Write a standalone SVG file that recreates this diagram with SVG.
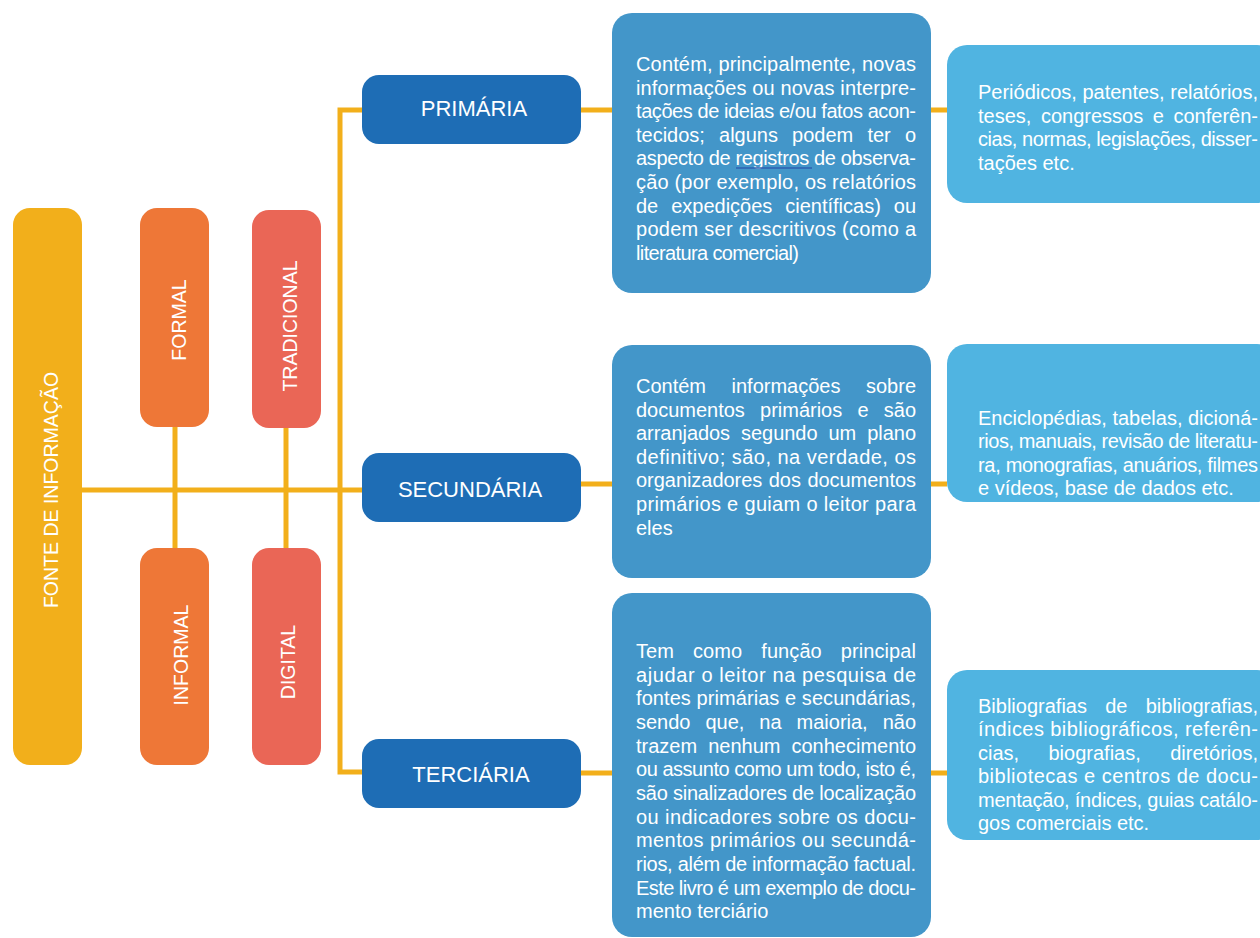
<svg xmlns="http://www.w3.org/2000/svg" width="1260" height="938" viewBox="0 0 1260 938">
<style>
.t{font-family:"Liberation Sans",Arial,sans-serif;fill:#fff;font-size:20px}
.v{font-family:"Liberation Sans",Arial,sans-serif;fill:#fff;font-size:19.5px;text-anchor:middle}
.h{font-family:"Liberation Sans",Arial,sans-serif;fill:#fff;font-size:22px;text-anchor:middle}
.c{fill:none;stroke:#F2AF1B;stroke-width:5}
.yel{fill:#F2AF1B}.ora{fill:#EE7737}.cor{fill:#EA6656}.dk{fill:#1E6DB5}.md{fill:#4396C9}.lt{fill:#50B4E1}
</style>
<rect width="1260" height="938" fill="#fff"/>
<g id="connectors">
<path class="c" d="M82 490H362"/>
<path class="c" d="M362 110H340V772H362"/>
<path class="c" d="M175 427V548"/>
<path class="c" d="M286 428V548"/>
<path class="c" d="M581 110H612M931 110H947"/>
<path class="c" d="M581 484H612M931 484H947"/>
<path class="c" d="M581 773H612M931 773H947"/>
</g>
<g id="fonte">
<rect class="yel" x="13" y="208" width="69" height="557" rx="17"/>
<text class="v" transform="translate(58 490) rotate(-90)">FONTE DE INFORMAÇÃO</text>
</g>
<g id="formal">
<rect class="ora" x="140" y="208" width="69" height="219" rx="17"/>
<text class="v" transform="translate(186 320) rotate(-90)">FORMAL</text>
</g>
<g id="informal">
<rect class="ora" x="140" y="548" width="69" height="217" rx="17"/>
<text class="v" transform="translate(188 655) rotate(-90)">INFORMAL</text>
</g>
<g id="tradicional">
<rect class="cor" x="252" y="210" width="69" height="218" rx="17"/>
<text class="v" transform="translate(297 326) rotate(-90)">TRADICIONAL</text>
</g>
<g id="digital">
<rect class="cor" x="252" y="548" width="69" height="217" rx="17"/>
<text class="v" transform="translate(295 662) rotate(-90)">DIGITAL</text>
</g>
<g id="primaria">
<rect class="dk" x="362" y="75" width="219" height="69" rx="17"/>
<text class="h" x="474" y="116">PRIMÁRIA</text>
</g>
<g id="secundaria">
<rect class="dk" x="362" y="453" width="219" height="69" rx="17"/>
<text class="h" x="470" y="497">SECUNDÁRIA</text>
</g>
<g id="terciaria">
<rect class="dk" x="362" y="739" width="219" height="69" rx="17"/>
<text class="h" x="471" y="782">TERCIÁRIA</text>
</g>
<g id="desc-primaria">
<rect class="md" x="612" y="13" width="319" height="280" rx="20"/>
<text class="t">
<tspan x="636" y="71" textLength="280" lengthAdjust="spacing">Contém, principalmente, novas</tspan>
<tspan x="636" y="94.6" textLength="280" lengthAdjust="spacing">informações ou novas interpre-</tspan>
<tspan x="636" y="118.2" textLength="280" lengthAdjust="spacing">tações de ideias e/ou fatos acon-</tspan>
<tspan x="636" y="141.8" textLength="280" lengthAdjust="spacing" word-spacing="8.6">tecidos; alguns podem ter o</tspan>
<tspan x="636" y="165.4" textLength="280" lengthAdjust="spacing">aspecto de registros de observa-</tspan>
<tspan x="636" y="189" textLength="280" lengthAdjust="spacing">ção (por exemplo, os relatórios</tspan>
<tspan x="636" y="212.6" textLength="280" lengthAdjust="spacing" word-spacing="7.4">de expedições científicas) ou</tspan>
<tspan x="636" y="236.2" textLength="280" lengthAdjust="spacing">podem ser descritivos (como a</tspan>
<tspan x="636" y="259.8" textLength="163" lengthAdjust="spacing">literatura comercial)</tspan>
</text>
<path d="M736 168H812" stroke="#2D5FB0" stroke-width="1.5"/>
</g>
<g id="ex-primaria">
<rect class="lt" x="947" y="45" width="330" height="158" rx="20"/>
<text class="t">
<tspan x="978" y="99" textLength="280" lengthAdjust="spacing">Periódicos, patentes, relatórios,</tspan>
<tspan x="978" y="122.7" textLength="280" lengthAdjust="spacing" word-spacing="4">teses, congressos e conferên-</tspan>
<tspan x="978" y="146.4" textLength="280" lengthAdjust="spacing">cias, normas, legislações, disser-</tspan>
<tspan x="978" y="170">tações etc.</tspan>
</text>
</g>
<g id="desc-secundaria">
<rect class="md" x="612" y="345" width="319" height="233" rx="20"/>
<text class="t">
<tspan x="636" y="393" textLength="280" lengthAdjust="spacing" word-spacing="20">Contém informações sobre</tspan>
<tspan x="636" y="416.6" textLength="280" lengthAdjust="spacing" word-spacing="9.7">documentos primários e são</tspan>
<tspan x="636" y="440.2" textLength="280" lengthAdjust="spacing" word-spacing="5.5">arranjados segundo um plano</tspan>
<tspan x="636" y="463.8" textLength="280" lengthAdjust="spacing">definitivo; são, na verdade, os</tspan>
<tspan x="636" y="487.4" textLength="280" lengthAdjust="spacing" word-spacing="1">organizadores dos documentos</tspan>
<tspan x="636" y="511" textLength="280" lengthAdjust="spacing">primários e guiam o leitor para</tspan>
<tspan x="636" y="534.6">eles</tspan>
</text>
</g>
<g id="ex-secundaria">
<rect class="lt" x="947" y="344" width="330" height="158" rx="20"/>
<text class="t">
<tspan x="978" y="425" textLength="280" lengthAdjust="spacing">Enciclopédias, tabelas, dicioná-</tspan>
<tspan x="978" y="448.4" textLength="280" lengthAdjust="spacing">rios, manuais, revisão de literatu-</tspan>
<tspan x="978" y="471.8" textLength="280" lengthAdjust="spacing">ra, monografias, anuários, filmes</tspan>
<tspan x="978" y="495.2">e vídeos, base de dados etc.</tspan>
</text>
</g>
<g id="desc-terciaria">
<rect class="md" x="612" y="593" width="319" height="344" rx="20"/>
<text class="t">
<tspan x="636" y="658" textLength="280" lengthAdjust="spacing" word-spacing="13.3">Tem como função principal</tspan>
<tspan x="636" y="681.6" textLength="280" lengthAdjust="spacing">ajudar o leitor na pesquisa de</tspan>
<tspan x="636" y="705.3" textLength="280" lengthAdjust="spacing">fontes primárias e secundárias,</tspan>
<tspan x="636" y="729" textLength="280" lengthAdjust="spacing" word-spacing="9.4">sendo que, na maioria, não</tspan>
<tspan x="636" y="752.6" textLength="280" lengthAdjust="spacing" word-spacing="5.5">trazem nenhum conhecimento</tspan>
<tspan x="636" y="776.3" textLength="280" lengthAdjust="spacing">ou assunto como um todo, isto é,</tspan>
<tspan x="636" y="799.9" textLength="280" lengthAdjust="spacing">são sinalizadores de localização</tspan>
<tspan x="636" y="823.6" textLength="280" lengthAdjust="spacing">ou indicadores sobre os docu-</tspan>
<tspan x="636" y="847.2" textLength="280" lengthAdjust="spacing">mentos primários ou secundá-</tspan>
<tspan x="636" y="870.9" textLength="280" lengthAdjust="spacing">rios, além de informação factual.</tspan>
<tspan x="636" y="894.5" textLength="280" lengthAdjust="spacing">Este livro é um exemplo de docu-</tspan>
<tspan x="636" y="918.2">mento terciário</tspan>
</text>
</g>
<g id="ex-terciaria">
<rect class="lt" x="947" y="670" width="330" height="170" rx="20"/>
<text class="t">
<tspan x="978" y="713" textLength="280" lengthAdjust="spacing" word-spacing="12.7">Bibliografias de bibliografias,</tspan>
<tspan x="978" y="736.4" textLength="280" lengthAdjust="spacing">índices bibliográficos, referên-</tspan>
<tspan x="978" y="759.8" textLength="280" lengthAdjust="spacing" word-spacing="23.8">cias, biografias, diretórios,</tspan>
<tspan x="978" y="783.2" textLength="280" lengthAdjust="spacing">bibliotecas e centros de docu-</tspan>
<tspan x="978" y="806.6" textLength="280" lengthAdjust="spacing">mentação, índices, guias catálo-</tspan>
<tspan x="978" y="830">gos comerciais etc.</tspan>
</text>
</g>
</svg>
